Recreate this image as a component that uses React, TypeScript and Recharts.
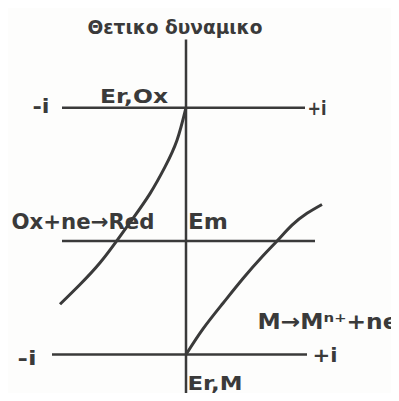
import React from 'react';
import {
  LineChart,
  Line,
  XAxis,
  YAxis,
  ReferenceLine,
  ReferenceDot,
} from 'recharts';

// current i (arbitrary units), potential E (arbitrary units)
const cathodicCurve = [
  { i: -126, E: 51 },
  { i: -106, E: 71 },
  { i: -86, E: 93 },
  { i: -68, E: 117 },
  { i: -53, E: 138 },
  { i: -36, E: 163 },
  { i: -21, E: 190 },
  { i: -9, E: 217 },
  { i: 0, E: 250 },
];

const anodicCurve = [
  { i: 0, E: 0 },
  { i: 17, E: 26 },
  { i: 37, E: 52 },
  { i: 57, E: 77 },
  { i: 77, E: 100 },
  { i: 92, E: 116 },
  { i: 106, E: 131 },
  { i: 121, E: 143 },
  { i: 136, E: 152 },
];

const potentialLevels = [
  { name: 'Er,Ox', E: 250, from: -124, to: 119 },
  { name: 'Em', E: 115, from: -124, to: 129 },
  { name: 'Er,M', E: 0, from: -134, to: 121 },
];

const potentialAxis = { top: 319, bottom: -44 };

const labels = [
  { text: 'Θετικο δυναμικο', i: -11, E: 332, size: 19, len: 175 },
  { text: '-i', i: -145, E: 252, size: 20, len: 17 },
  { text: '+i', i: 131, E: 250, size: 20, len: 19 },
  { text: 'Er,Ox', i: -52, E: 262, size: 20, len: 68 },
  { text: 'Ox+ne→Red', i: -103, E: 134, size: 21, len: 143 },
  { text: 'Em', i: 22, E: 134, size: 21, len: 40 },
  { text: 'M→Mⁿ⁺+ne', i: 142, E: 33, size: 21, len: 141 },
  { text: '-i', i: -159, E: -3, size: 20, len: 19 },
  { text: '+i', i: 139, E: 0, size: 20, len: 25 },
  { text: 'Er,M', i: 29, E: -29, size: 20, len: 55 },
];

const INK = '#3a3a3a';

function TextAt({ viewBox, text, size, len }: any) {
  return (
    <text
      x={viewBox.x}
      y={viewBox.y}
      textAnchor="middle"
      dominantBaseline="central"
      fontFamily="'DejaVu Sans', sans-serif"
      fontWeight={700}
      fontSize={size}
      textLength={len}
      lengthAdjust="spacingAndGlyphs"
      fill={INK}
    >
      {text}
    </text>
  );
}

export default function App() {
  return (
    <div style={{ margin: -8, width: 399, height: 401, background: '#fdfdfc' }}>
      <LineChart
        width={399}
        height={401}
        margin={{ top: 0, right: 0, bottom: 0, left: 0 }}
      >
        <XAxis type="number" dataKey="i" domain={[-186, 213]} hide />
        <YAxis type="number" dataKey="E" domain={[-47, 359]} hide />
        <ReferenceLine
          segment={[
            { x: 0, y: potentialAxis.top },
            { x: 0, y: potentialAxis.bottom },
          ]}
          stroke={INK}
          strokeWidth={2.5}
        />
        {potentialLevels.map((lvl) => (
          <ReferenceLine
            key={lvl.name}
            segment={[
              { x: lvl.from, y: lvl.E },
              { x: lvl.to, y: lvl.E },
            ]}
            stroke={INK}
            strokeWidth={2.5}
          />
        ))}
        <Line
          data={cathodicCurve}
          dataKey="E"
          type="natural"
          stroke={INK}
          strokeWidth={3}
          dot={false}
          isAnimationActive={false}
        />
        <Line
          data={anodicCurve}
          dataKey="E"
          type="natural"
          stroke={INK}
          strokeWidth={3}
          dot={false}
          isAnimationActive={false}
        />
        {labels.map((l, idx) => (
          <ReferenceDot
            key={idx}
            x={l.i}
            y={l.E}
            r={0}
            fill="none"
            stroke="none"
            label={(props: any) => (
              <TextAt {...props} text={l.text} size={l.size} len={l.len} />
            )}
          />
        ))}
      </LineChart>
    </div>
  );
}
